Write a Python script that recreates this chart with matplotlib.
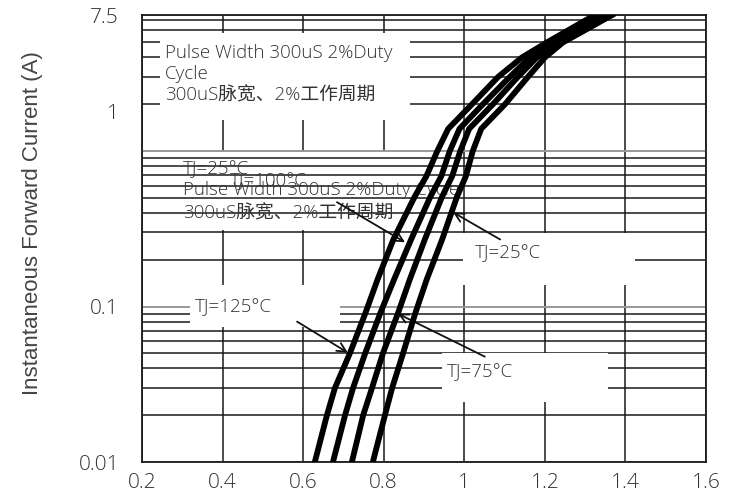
import matplotlib
matplotlib.use('Agg')
import matplotlib.pyplot as plt
from matplotlib.patches import Rectangle
from matplotlib.ticker import FixedLocator, NullFormatter

current = [0.01, 0.02, 0.03, 0.05, 0.09, 0.15, 0.27, 0.51, 0.69, 1.0, 1.39, 2.0, 3.0, 4.0, 5.0, 7.5]

# Instantaneous forward voltage (V) per junction temperature
vf_125 = [0.629, 0.659, 0.679, 0.716, 0.754, 0.785, 0.824, 0.877, 0.906, 0.933, 0.960, 1.019, 1.084, 1.143, 1.205, 1.324]
vf_100 = [0.674, 0.704, 0.724, 0.754, 0.791, 0.826, 0.868, 0.916, 0.943, 0.964, 0.988, 1.046, 1.113, 1.163, 1.218, 1.337]
vf_75 = [0.721, 0.749, 0.771, 0.798, 0.835, 0.865, 0.902, 0.945, 0.970, 0.990, 1.012, 1.071, 1.133, 1.180, 1.230, 1.349]
vf_25 = [0.773, 0.803, 0.821, 0.848, 0.878, 0.907, 0.945, 0.982, 1.004, 1.021, 1.042, 1.101, 1.158, 1.200, 1.245, 1.367]

x_ticks = [0.2, 0.4, 0.6, 0.8, 1.0, 1.2, 1.4, 1.6]
x_tick_labels = ['0.2', '0.4', '0.6', '0.8', '1', '1.2', '1.4', '1.6']
y_ticks = [0.01, 0.1, 1, 7.5]
y_tick_labels = ['0.01', '0.1', '', '7.5']
y_minor = [0.02, 0.03, 0.04, 0.05, 0.06, 0.07, 0.08, 0.09,
           0.2, 0.3, 0.4, 0.5, 0.6, 0.7, 0.8, 0.9,
           2, 3, 4, 5, 6, 7]

note_en = 'Pulse Width 300uS 2%Duty\nCycle\n300uS脉宽、2%工作周期'
note_mid = 'Pulse Width 300uS 2%Duty Cycle'
note_cn = '300uS脉宽、2%工作周期'

ui_font = ['Open Sans', 'DejaVu Sans', 'Noto Sans CJK SC']
txt_col = '#333333'

fig = plt.figure(figsize=(7.33, 4.99), dpi=100)
ax = fig.add_axes([0.1937, 0.0741, 0.7695, 0.8958])

# curves
for vf in (vf_125, vf_100, vf_75, vf_25):
    ax.plot(vf, current, color='black', lw=4.2, solid_joinstyle='round', zorder=5)

ax.set_yscale('log')
ax.set_xlim(0.2, 1.6)
ax.set_ylim(0.01, 7.5)

ax.xaxis.set_major_locator(FixedLocator(x_ticks))
ax.set_xticklabels(x_tick_labels)
ax.yaxis.set_major_locator(FixedLocator(y_ticks))
ax.set_yticklabels(y_tick_labels)
ax.yaxis.set_minor_locator(FixedLocator(y_minor))
ax.yaxis.set_minor_formatter(NullFormatter())

ax.tick_params(which='both', length=0)
ax.tick_params(axis='y', pad=16.5)
ax.tick_params(axis='x', pad=8)
for lab in ax.get_xticklabels() + ax.get_yticklabels():
    lab.set_family(ui_font)
    lab.set_fontweight('light')
    lab.set_fontsize(15)
    lab.set_color(txt_col)

ax.grid(axis='x', which='major', color='#1a1a1a', lw=1.1)
ax.grid(axis='y', which='minor', color='#1a1a1a', lw=1.1)
ax.grid(axis='y', which='major', color='#999999', lw=1.4)
ax.xaxis.set_zorder(0.5)
ax.yaxis.set_zorder(1.8)
for sp in ax.spines.values():
    sp.set_color('#1a1a1a')
    sp.set_linewidth(1.3)

# "1" label sits above its gridline in the original
ax.annotate('1', xy=(0, 1), xycoords=('axes fraction', 'data'),
            xytext=(-23, 37), textcoords='offset pixels',
            ha='right', va='center', fontsize=15, fontweight='light',
            family=ui_font, color=txt_col, annotation_clip=False)

ax.set_ylabel('Instantaneous Forward Current (A)', family='Liberation Sans',
              fontsize=16, color='#444444')
ax.yaxis.set_label_coords(-0.175, 0.535)

# white patches behind the notes
boxes = [((0.032, 0.765), 0.443, 0.195, 3),
         ((0.014, 0.519), 0.429, 0.175, 1),
         ((0.085, 0.302), 0.266, 0.094, 3),
         ((0.569, 0.396), 0.305, 0.116, 3),
         ((0.532, 0.134), 0.294, 0.110, 3)]
for xy, w, h, z in boxes:
    ax.add_patch(Rectangle(xy, w, h, transform=ax.transAxes, facecolor='white',
                           edgecolor='none', zorder=z))

tkw = dict(transform=ax.transAxes, family=ui_font, fontweight='light',
           color=txt_col, fontsize=13.5, zorder=4)
ax.text(0.041, 0.935, note_en, va='top', ha='left', linespacing=1.22, **tkw)
ax.text(0.073, 0.655, 'TJ=25°C', va='center', ha='left', **tkw)
ax.text(0.156, 0.628, 'TJ=100°C', va='center', ha='left', **tkw)
ax.text(0.073, 0.609, note_mid, va='center', ha='left', **tkw)
ax.text(0.073, 0.557, note_cn, va='center', ha='left', **tkw)
ax.text(0.094, 0.347, 'TJ=125°C', va='center', ha='left', **tkw)
ax.text(0.590, 0.468, 'TJ=25°C', va='center', ha='left', **tkw)
ax.text(0.541, 0.201, 'TJ=75°C', va='center', ha='left', **tkw)

# leader arrows
akw = dict(arrowstyle='->', color='#111111', lw=1.3, mutation_scale=16,
           shrinkA=0, shrinkB=0)
arrows = [((0.585, 0.080), (0.711, 0.0505)),
          ((0.684, 0.469), (0.853, 0.259)),
          ((1.089, 0.270), (0.972, 0.404)),
          ((1.051, 0.0476), (0.835, 0.090))]
for start, end in arrows:
    ax.annotate('', xy=end, xytext=start, arrowprops=akw, zorder=4)

fig.savefig('out.png', dpi=100, facecolor='white')
